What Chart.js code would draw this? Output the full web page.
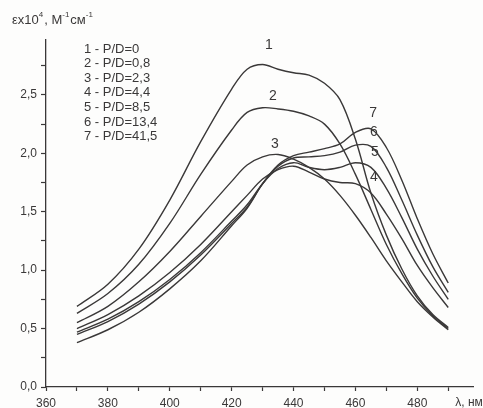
<!DOCTYPE html>
<html>
<head>
<meta charset="utf-8">
<script src="https://cdn.jsdelivr.net/npm/chart.js@4/dist/chart.umd.min.js"></script>
<style>
html,body{margin:0;padding:0;background:#fdfdfc;}
#c{display:block;}
</style>
</head>
<body>
<canvas id="c" width="483" height="408"></canvas>
<script>
// wavelength grid, nm
const wavelengths = [370,380,390,400,410,420,425,430,435,440,445,450,455,460,465,470,475,480,485,490];
// extinction, x10^4 M^-1 cm^-1
const curve1 = [0.69,0.88,1.18,1.60,2.10,2.55,2.72,2.76,2.72,2.69,2.67,2.60,2.46,2.12,1.66,1.30,1.01,0.78,0.62,0.51];
const curve2 = [0.63,0.80,1.05,1.40,1.82,2.20,2.35,2.39,2.38,2.36,2.32,2.25,2.08,1.82,1.52,1.22,0.97,0.76,0.61,0.50];
const curve3 = [0.55,0.69,0.90,1.16,1.46,1.76,1.90,1.97,1.99,1.95,1.88,1.78,1.64,1.47,1.28,1.08,0.90,0.73,0.60,0.49];
const curve4 = [0.50,0.62,0.78,0.98,1.22,1.50,1.64,1.78,1.86,1.89,1.84,1.78,1.75,1.74,1.66,1.48,1.27,1.04,0.85,0.68];
const curve5 = [0.47,0.58,0.73,0.92,1.15,1.42,1.56,1.74,1.87,1.92,1.88,1.86,1.88,1.92,1.88,1.70,1.45,1.18,0.95,0.75];
const curve6 = [0.45,0.56,0.71,0.90,1.13,1.40,1.54,1.74,1.89,1.96,1.97,1.98,2.01,2.07,2.06,1.88,1.60,1.30,1.03,0.81];
const curve7 = [0.38,0.49,0.64,0.84,1.08,1.38,1.53,1.74,1.90,1.98,2.01,2.04,2.08,2.18,2.21,2.05,1.77,1.44,1.14,0.89];
const curveNames = ['1','2','3','4','5','6','7'];
const legendLabels = ['1 - P/D=0','2 - P/D=0,8','3 - P/D=2,3','4 - P/D=4,4','5 - P/D=8,5','6 - P/D=13,4','7 - P/D=41,5'];
// curve number labels (data coords)
const labelX = [432,433.3,434,466,466.3,466,465.7];
const labelY = [2.93,2.49,2.08,1.80,2.01,2.18,2.34];
// axis ticks
const xTicks = [360,370,380,390,400,410,420,430,440,450,460,470,480,490];
const yTicks = [0,0.25,0.5,0.75,1,1.25,1.5,1.75,2,2.25,2.5,2.75];
const xTitle = 'λ, нм';

const INK = '#3a3838';
const FONT = '"Liberation Sans", Arial, sans-serif';
const series = [curve1,curve2,curve3,curve4,curve5,curve6,curve7];

const datasets = series.map((s,i)=>({
  label: legendLabels[i],
  data: wavelengths.map((w,j)=>({x:w,y:s[j]})),
  borderColor: INK,
  borderWidth: 1.4,
  pointRadius: 0,
  fill: false,
  tension: 0.35
}));

const textPlugin = {
  id: 'texts',
  afterDraw(chart){
    const ctx = chart.ctx;
    const xs = chart.scales.x, ys = chart.scales.y;
    ctx.save();
    ctx.fillStyle = INK;
    // y title with superscripts
    const parts = [['εx10',0],['4',1],[', М',0],['-1',1],['см',0],['-1',1]];
    let x = 12;
    const base = 24;
    for (const [t,sup] of parts){
      ctx.font = (sup? '8px ':'13px ') + FONT;
      ctx.textBaseline = 'alphabetic';
      ctx.textAlign = 'left';
      ctx.fillText(t, x, sup ? base-7 : base);
      x += ctx.measureText(t).width + (sup?1:0);
    }
    // legend text
    ctx.font = '13px ' + FONT;
    ctx.textBaseline = 'middle';
    ctx.textAlign = 'left';
    legendLabels.forEach((t,i)=>{ ctx.fillText(t, 84, 49 + i*14.6); });
    // curve numbers
    ctx.font = '14px ' + FONT;
    ctx.textAlign = 'center';
    curveNames.forEach((t,i)=>{
      ctx.fillText(t, xs.getPixelForValue(labelX[i]), ys.getPixelForValue(labelY[i]));
    });
    // x title
    ctx.font = '12px ' + FONT;
    ctx.textAlign = 'center';
    ctx.fillText(xTitle, chart.chartArea.right - 4, 403);
    ctx.restore();
  }
};

new Chart(document.getElementById('c'), {
  type: 'line',
  data: { datasets },
  options: {
    responsive: false,
    animation: false,
    devicePixelRatio: 1,
    layout: { padding: { top: 40, right: 10, left: 0, bottom: 0 } },
    plugins: { legend: { display: false }, tooltip: { enabled: false } },
    scales: {
      x: {
        type: 'linear',
        min: 360, max: 498,
        afterBuildTicks: (s)=>{ s.ticks = xTicks.map(v=>({value:v})); },
        afterFit: (s)=>{ s.height = 21; },
        ticks: {
          autoSkip: false, maxRotation: 0, padding: 5,
          color: INK, font: { family: FONT, size: 12 },
          callback: (v)=> (v % 20 === 0 && v <= 480) ? String(v) : ''
        },
        grid: { drawOnChartArea: false, drawTicks: true, tickLength: 4, color: INK, tickWidth: 1.2 },
        border: { display: true, color: INK, width: 1.3 }
      },
      y: {
        type: 'linear',
        min: 0, max: 2.97,
        afterBuildTicks: (s)=>{ s.ticks = yTicks.map(v=>({value:v})); },
        afterFit: (s)=>{ s.width = 46; },
        ticks: {
          autoSkip: false, padding: 4,
          color: INK, font: { family: FONT, size: 12 },
          callback: (v)=> (Math.abs(v*2 - Math.round(v*2)) < 1e-6) ? v.toFixed(1).replace('.', ',') : ''
        },
        grid: { drawOnChartArea: false, drawTicks: true, tickLength: 5, color: INK, tickWidth: 1.2 },
        border: { display: true, color: INK, width: 1.3 }
      }
    }
  },
  plugins: [textPlugin]
});
</script>
</body>
</html>
